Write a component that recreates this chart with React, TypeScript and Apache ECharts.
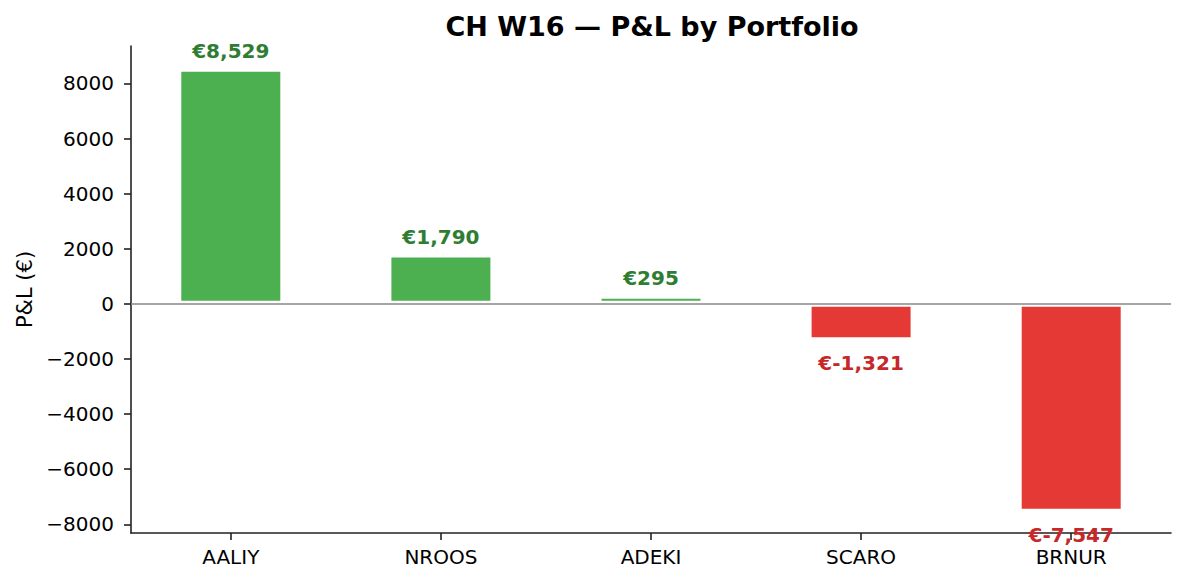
import React, { useEffect, useRef } from "react";
import * as echarts from "echarts";

const categories = ["AALIY", "NROOS", "ADEKI", "SCARO", "BRNUR"];
const pnl = [8529, 1790, 295, -1321, -7547];
const yTicks = [-8000, -6000, -4000, -2000, 0, 2000, 4000, 6000, 8000];
const title = "CH W16 \u2014 P&L by Portfolio";
const yName = "P&L (\u20ac)";

const FONT = "DejaVu Sans";
const POS = "#4CAF50";
const NEG = "#E53935";
const POS_TXT = "#2E7D32";
const NEG_TXT = "#C62828";

function fmtEuro(v: number): string {
  return "\u20ac" + v.toLocaleString("en-US");
}

export default function App() {
  const ref = useRef<HTMLDivElement>(null);
  useEffect(() => {
    if (!ref.current) return;
    const chart = echarts.init(ref.current, undefined, { renderer: "svg" });
    const idx = categories.map((_, i) => i);
    chart.setOption({
      animation: false,
      backgroundColor: "#ffffff",
      title: {
        text: title,
        left: 647,
        top: 8,
        textAlign: "center",
        textStyle: { fontFamily: FONT, fontWeight: "bold", fontSize: 27, color: "#000" },
      },
      grid: { left: 131, right: 14, top: 46, bottom: 50, containLabel: false },
      xAxis: {
        type: "value",
        min: -0.475,
        max: 4.475,
        splitLine: { show: false },
        axisLine: { show: true, onZero: false, lineStyle: { color: "#222", width: 1.6 } },
        axisTick: { show: true, customValues: idx, length: 7, lineStyle: { color: "#222", width: 1.6 } },
        axisLabel: {
          customValues: idx,
          formatter: (v: number) => categories[Math.round(v)] ?? "",
          fontFamily: FONT,
          fontSize: 20,
          color: "#000",
          margin: 14,
        },
      },
      yAxis: {
        type: "value",
        min: -8315,
        max: 9357,
        name: yName,
        nameLocation: "middle",
        nameRotate: 90,
        nameGap: 95,
        nameTextStyle: { fontFamily: FONT, fontSize: 21, color: "#000" },
        splitLine: { show: false },
        axisLine: { show: true, onZero: false, lineStyle: { color: "#222", width: 1.6 } },
        axisTick: { show: true, customValues: yTicks, length: 7, lineStyle: { color: "#222", width: 1.6 } },
        axisLabel: {
          customValues: yTicks,
          formatter: (v: number) => (v < 0 ? "\u2212" + Math.abs(v) : String(v)),
          fontFamily: FONT,
          fontSize: 20,
          color: "#000",
          margin: 17,
        },
      },
      series: [
        {
          type: "bar",
          barWidth: 105,
          data: pnl.map((v, i) => ({
            value: [i, v],
            itemStyle: { color: v >= 0 ? POS : NEG, borderColor: "#fff", borderWidth: 3 },
            label: {
              show: true,
              position: v >= 0 ? "top" : "bottom",
              distance: v >= 0 ? 8 : 13,
              color: v >= 0 ? POS_TXT : NEG_TXT,
            },
          })),
          label: {
            show: true,
            fontFamily: FONT,
            fontWeight: "bold",
            fontSize: 20,
            formatter: (p: any) => fmtEuro(p.value[1]),
          },
          markLine: {
            silent: true,
            symbol: "none",
            label: { show: false },
            lineStyle: { color: "#888", width: 1.6, type: "solid" },
            data: [{ yAxis: 0 }],
          },
        },
      ],
    });
    return () => chart.dispose();
  }, []);
  return (
    <div
      ref={ref}
      style={{ position: "absolute", left: 0, top: 0, width: 1185, height: 583, background: "#fff" }}
    />
  );
}
